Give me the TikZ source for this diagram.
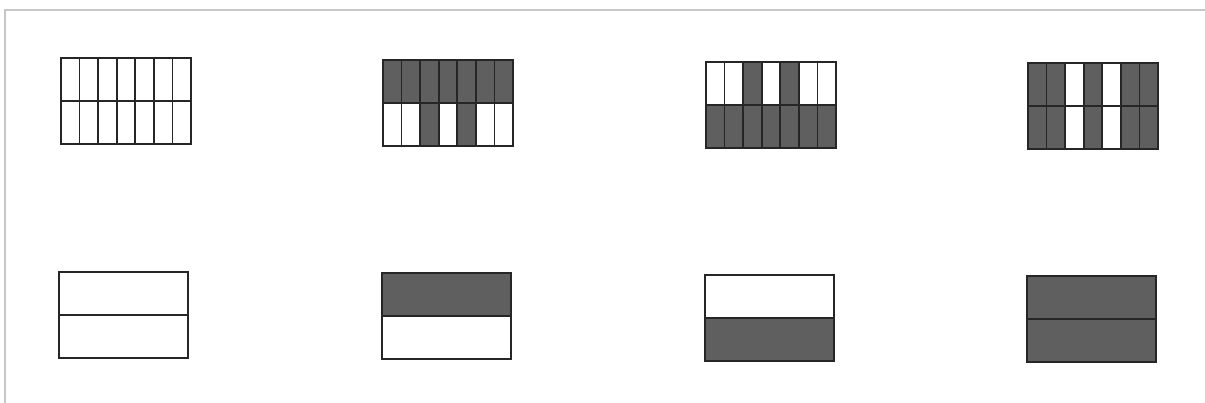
\documentclass[tikz,border=0pt]{standalone}
\begin{document}
\begin{tikzpicture}[x=1pt,y=-1pt,
  cellline/.style={draw=black!85,line width=1.6pt},
  shade/.style={fill=shadegray},
  frameline/.style={draw=black!22,line width=2pt}]
\definecolor{shadegray}{RGB}{95,95,95}
\useasboundingbox (0,0) rectangle (1205,403);
\draw[frameline] (5,403) -- (5,10) -- (1205,10);
% Grid A (empty)
\begin{scope}[shift={(61,58)}]
  \foreach \c in {1,...,6} \draw[cellline] (\c*130/7,0) -- (\c*130/7,86);
  \draw[cellline] (0,43) -- (130,43);
  \draw[cellline] (0,0) rectangle (130,86);
\end{scope}
% Grid B
\begin{scope}[shift={(383,60)}]
  \foreach \r/\c in {0/0,0/1,0/2,0/3,0/4,0/5,0/6,1/2,1/4}
    \fill[shade] (\c*130/7,\r*43) rectangle ({(\c+1)*130/7},{(\r+1)*43});
  \foreach \c in {1,...,6} \draw[cellline] (\c*130/7,0) -- (\c*130/7,86);
  \draw[cellline] (0,43) -- (130,43);
  \draw[cellline] (0,0) rectangle (130,86);
\end{scope}
% Grid C
\begin{scope}[shift={(706,62)}]
  \foreach \r/\c in {1/0,1/1,1/2,1/3,1/4,1/5,1/6,0/2,0/4}
    \fill[shade] (\c*130/7,\r*43) rectangle ({(\c+1)*130/7},{(\r+1)*43});
  \foreach \c in {1,...,6} \draw[cellline] (\c*130/7,0) -- (\c*130/7,86);
  \draw[cellline] (0,43) -- (130,43);
  \draw[cellline] (0,0) rectangle (130,86);
\end{scope}
% Grid D
\begin{scope}[shift={(1028,63)}]
  \foreach \r/\c in {0/0,0/1,0/3,0/5,0/6,1/0,1/1,1/3,1/5,1/6}
    \fill[shade] (\c*130/7,\r*43) rectangle ({(\c+1)*130/7},{(\r+1)*43});
  \foreach \c in {1,...,6} \draw[cellline] (\c*130/7,0) -- (\c*130/7,86);
  \draw[cellline] (0,43) -- (130,43);
  \draw[cellline] (0,0) rectangle (130,86);
\end{scope}
% Halves
\foreach \gx/\gy/\tp/\bt in {59/272/0/0,382/273/1/0,705/275/0/1,1027/276/1/1}{
  \begin{scope}[shift={(\gx,\gy)}]
    \ifnum\tp=1 \fill[shade] (0,0) rectangle (129,43); \fi
    \ifnum\bt=1 \fill[shade] (0,43) rectangle (129,86); \fi
    \draw[cellline] (0,43) -- (129,43);
    \draw[cellline] (0,0) rectangle (129,86);
  \end{scope}
}
\end{tikzpicture}
\end{document}
